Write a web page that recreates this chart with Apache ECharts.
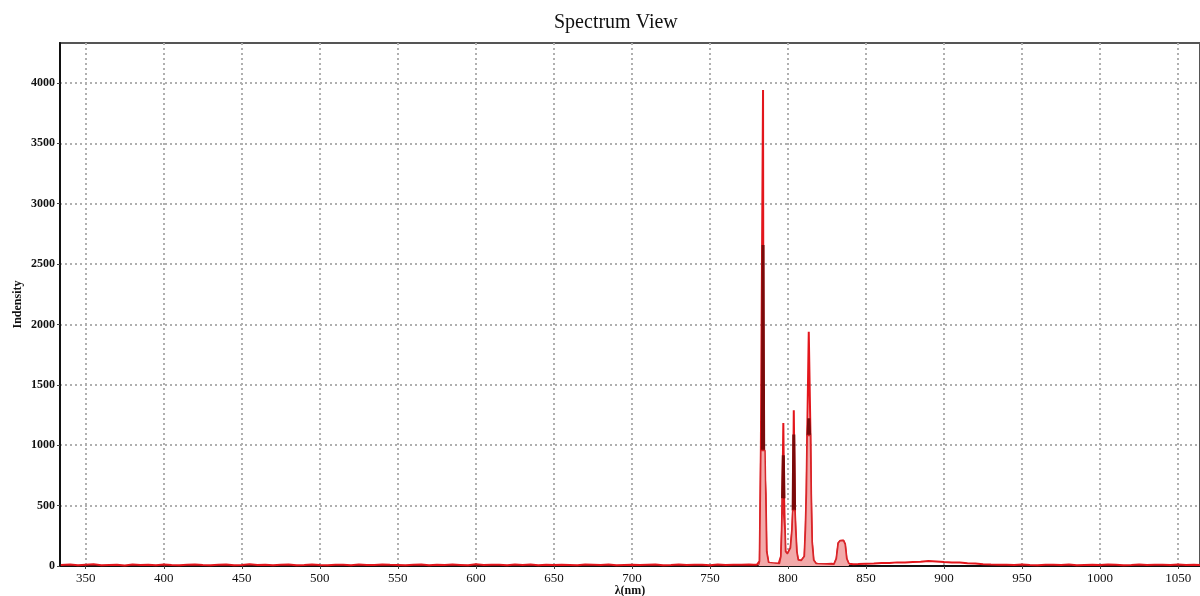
<!DOCTYPE html>
<html>
<head>
<meta charset="utf-8">
<script src="https://cdn.jsdelivr.net/npm/echarts@6/dist/echarts.min.js"></script>
<style>html,body{margin:0;padding:0;background:#fff}#c{width:1200px;height:596px}</style>
</head>
<body>
<div id="c"></div>
<script>
const xTicks = [350,400,450,500,550,600,650,700,750,800,850,900,950,1000,1050];
const yTicks = [0,500,1000,1500,2000,2500,3000,3500,4000];

// main (red) spectrum
const redWl = [334,340,345,350,355,360,365,370,375,380,385,390,395,400,405,410,415,420,425,430,435,440,445,450,455,460,465,470,475,480,485,490,495,500,505,510,515,520,525,530,535,540,545,550,555,560,565,570,575,580,585,590,595,600,605,610,615,620,625,630,635,640,645,650,655,660,665,670,675,680,685,690,695,700,705,710,715,720,725,730,735,740,745,750,755,760,765,770,775,778,
 780,781,781.8,782.3,782.6,783.7,784.0,784.3,785.3,785.7,786.3,787.5,790,792,794,795.5,796.0,796.4,797.0,797.5,798.0,798.4,799.6,800.4,801.6,802.6,803.2,803.7,804.4,804.9,805.6,806.5,808.5,810.5,811.2,811.8,812.3,813.3,814.4,814.8,815.4,816.4,818,820,822,825,828,829.5,831,832.2,833.5,835.5,836.6,837.6,839,842,845,850,855,860,865,870,875,880,885,890,895,900,905,910,915,920,925,930,935,940,945,950,955,960,965,970,975,980,985,990,995,1000,1005,1010,1015,1020,1025,1030,1035,1040,1045,1050,1055,1060,1064];
const redI = [8,12,6,10,14,7,9,11,5,13,8,10,6,12,9,7,11,13,8,6,10,12,7,9,14,8,11,6,10,13,7,9,12,8,6,11,10,7,13,9,8,12,10,9,6,11,13,7,10,8,12,9,6,14,8,10,11,7,12,9,13,6,10,8,11,9,7,12,10,8,13,6,9,11,8,10,12,7,9,13,8,11,10,6,12,9,10,11,12,10,
 10,12,40,600,957,957,3940,957,957,600,120,30,15,18,20,80,300,560,1184,560,300,120,101,101,150,300,460,1289,460,300,120,50,45,80,300,600,1080,1940,1080,600,200,50,20,15,14,16,18,15,60,190,210,211,180,60,18,15,16,18,20,25,24,30,28,33,35,42,38,33,30,28,22,20,15,12,11,10,8,12,9,7,11,10,8,13,6,9,11,8,12,10,7,9,13,8,11,10,9,12,8,10,9];

// dark red overlay spikes (null = gap)
const darkWl = [783.6,784.0,784.4,790,796.5,797.0,797.4,800,803.3,803.7,804.2,808,812.8,813.3,813.9];
const darkI  = [957,2657,957,null,560,916,560,null,460,1088,460,null,1080,1223,1080];

// pink filled lower part of peaks
const pinkWl = [781.2,781.8,782.3,782.6,785.3,785.7,786.3,787.5,794.5,795.5,796.0,796.4,797.6,798.0,798.4,799.6,800.4,801.6,802.6,803.0,804.4,804.9,805.6,806.5,808.5,810.5,811.2,811.8,812.3,814.4,814.8,815.4,816.4,818,825,829.5,831,832.2,833.5,835.5,836.6,837.6,839];
const pinkI  = [10,40,600,957,957,600,120,30,20,80,300,560,560,300,120,101,101,150,300,460,460,300,120,50,45,80,300,600,1080,1080,600,200,50,20,16,15,60,190,210,211,180,60,18];

const toPairs = (xs, ys) => xs.map((x, i) => [x, ys[i] === null ? '-' : ys[i]]);

const serif = 'Liberation Serif, Times New Roman, serif';
const chart = echarts.init(document.getElementById('c'), null, {renderer: 'canvas'});
chart.setOption({
  animation: false,
  backgroundColor: '#fff',
  title: {
    text: 'Spectrum View', left: 549, top: 8,
    textStyle: {fontFamily: serif, fontSize: 20, fontWeight: 'normal', color: '#111'}
  },
  grid: {left: 60, top: 43, right: 0, bottom: 30, containLabel: false, outerBoundsMode: 'none',
         show: true, borderColor: '#555', borderWidth: 2},
  xAxis: {
    type: 'value', min: 333.5, max: 1064,
    name: 'λ(nm)', nameLocation: 'middle', nameGap: 19, nameMoveOverlap: false,
    nameTextStyle: {fontFamily: serif, fontSize: 12, fontWeight: 'bold', color: '#111'},
    axisLine: {show: true, onZero: false, lineStyle: {color: '#111', width: 2}},
    axisTick: {show: true, length: 3, customValues: xTicks, lineStyle: {color: '#444'}},
    axisLabel: {customValues: xTicks, margin: 6, fontFamily: serif, fontSize: 13, color: '#111',
                formatter: v => String(v)},
    splitLine: {show: true, lineStyle: {color: '#b0b0b0', type: [2, 3], width: 2}}
  },
  yAxis: {
    type: 'value', min: 0, max: 4330,
    name: 'Indensity', nameLocation: 'middle', nameGap: 36, nameRotate: 90, nameMoveOverlap: false,
    nameTextStyle: {fontFamily: serif, fontSize: 12, fontWeight: 'bold', color: '#111'},
    axisLine: {show: true, lineStyle: {color: '#111', width: 2}},
    axisTick: {show: true, length: 3, customValues: yTicks, lineStyle: {color: '#444'}},
    axisLabel: {customValues: yTicks, margin: 5, fontFamily: serif, fontSize: 12, fontWeight: 'bold', color: '#111',
                formatter: v => String(v)},
    splitLine: {show: true, lineStyle: {color: '#b0b0b0', type: [2, 3], width: 2}}
  },
  series: [
    {type: 'line', z: 2, showSymbol: false, data: toPairs(redWl, redI),
     lineStyle: {color: '#e3161c', width: 2}},
    {type: 'line', z: 3, showSymbol: false, connectNulls: false, data: toPairs(darkWl, darkI),
     lineStyle: {color: '#7a0a0a', width: 3}},
    {type: 'line', z: 4, showSymbol: false, data: toPairs(pinkWl, pinkI),
     lineStyle: {color: '#d8262a', width: 1.5},
     areaStyle: {color: '#f2aaaa', opacity: 1}}
  ]
});
</script>
</body>
</html>
